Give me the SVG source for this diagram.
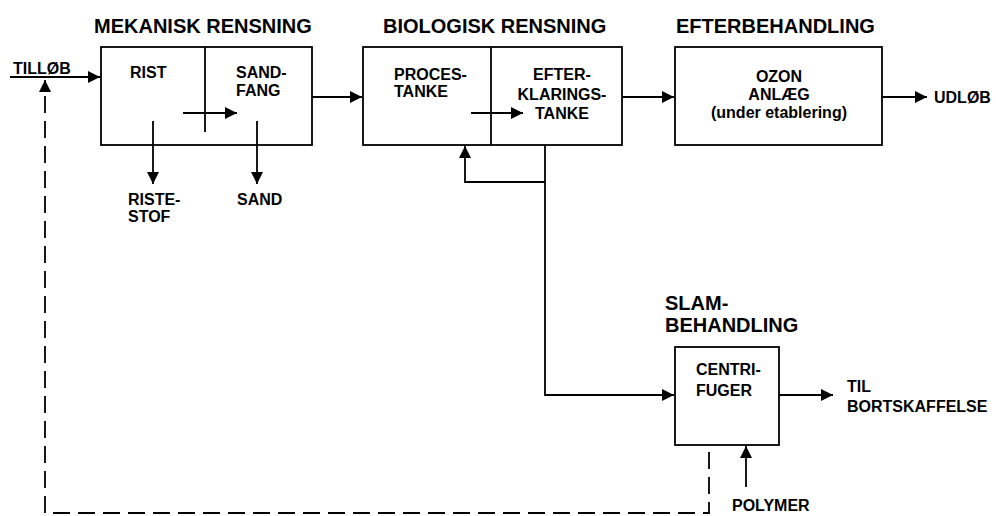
<svg xmlns="http://www.w3.org/2000/svg" width="996" height="516" viewBox="0 0 996 516">
<style>
  .box{fill:none;stroke:#000;stroke-width:1.8}
  .ln{fill:none;stroke:#000;stroke-width:1.8}
  .arr{fill:none;stroke:#000;stroke-width:1.8;marker-end:url(#ah)}
  .dash{fill:none;stroke:#000;stroke-width:1.8;stroke-dasharray:17 8;marker-end:url(#ah)}
  text{font-family:"Liberation Sans",Arial,sans-serif;font-weight:bold;fill:#000}
  .t{font-size:20px}
  .n{font-size:16px}
  .c{text-anchor:middle}
</style>
<defs>
  <marker id="ah" viewBox="0 0 10 10" refX="10" refY="5" markerWidth="12" markerHeight="12" markerUnits="userSpaceOnUse" orient="auto">
    <path d="M0,0 L10,5 L0,10 z" fill="#000"/>
  </marker>
</defs>
<rect width="996" height="516" fill="#fff"/>

<g id="connectors">
  <path class="arr" d="M10,77 H100"/>
  <path class="arr" d="M183,113 H237"/>
  <path class="arr" d="M153,121 V184"/>
  <path class="arr" d="M257,121 V184"/>
  <path class="arr" d="M312,97 H362"/>
  <path class="arr" d="M471,113 H523"/>
  <path class="arr" d="M622,97 H674"/>
  <path class="arr" d="M882,97 H927"/>
  <path class="arr" d="M545,145 V395 H674"/>
  <path class="arr" d="M545,182 H465 V146"/>
  <path class="arr" d="M779,395 H833"/>
  <path class="arr" d="M746,487 V446"/>
  <path class="dash" d="M709,452 V513 H45 V80"/>
</g>

<g id="tillob"><text class="n" x="13" y="74">TILLØB</text></g>

<g id="mekanisk">
  <text class="t" x="94" y="33">MEKANISK RENSNING</text>
  <rect class="box" x="101" y="47" width="211" height="98"/>
  <path class="ln" d="M205,47 V132"/>
  <text class="n" x="130" y="78">RIST</text>
  <text class="n" x="236" y="78">SAND-</text>
  <text class="n" x="236" y="96">FANG</text>
</g>

<g id="ristestof">
  <text class="n" x="128" y="205">RISTE-</text>
  <text class="n" x="128" y="222">STOF</text>
</g>
<g id="sand"><text class="n" x="237" y="205">SAND</text></g>

<g id="biologisk">
  <text class="t" x="383" y="33">BIOLOGISK RENSNING</text>
  <rect class="box" x="363" y="47" width="259" height="98"/>
  <path class="ln" d="M491,47 V145"/>
  <text class="n" x="394" y="80">PROCES-</text>
  <text class="n" x="394" y="97">TANKE</text>
  <text class="n c" x="562" y="80">EFTER-</text>
  <text class="n c" x="562" y="100">KLARINGS-</text>
  <text class="n c" x="562" y="119">TANKE</text>
</g>

<g id="efterbehandling">
  <text class="t" x="676" y="33">EFTERBEHANDLING</text>
  <rect class="box" x="675" y="47" width="207" height="98"/>
  <text class="n c" x="779" y="82">OZON</text>
  <text class="n c" x="779" y="100">ANLÆG</text>
  <text class="n c" x="779" y="118">(under etablering)</text>
</g>

<g id="udlob"><text class="n" x="934" y="103">UDLØB</text></g>

<g id="slambehandling">
  <text class="t" x="665" y="310">SLAM-</text>
  <text class="t" x="665" y="332">BEHANDLING</text>
  <rect class="box" x="675" y="347" width="104" height="98"/>
  <text class="n" x="696" y="375">CENTRI-</text>
  <text class="n" x="696" y="396">FUGER</text>
</g>

<g id="bortskaffelse">
  <text class="n" x="847" y="392">TIL</text>
  <text class="n" x="847" y="412">BORTSKAFFELSE</text>
</g>

<g id="polymer"><text class="n" x="732" y="511">POLYMER</text></g>
</svg>
